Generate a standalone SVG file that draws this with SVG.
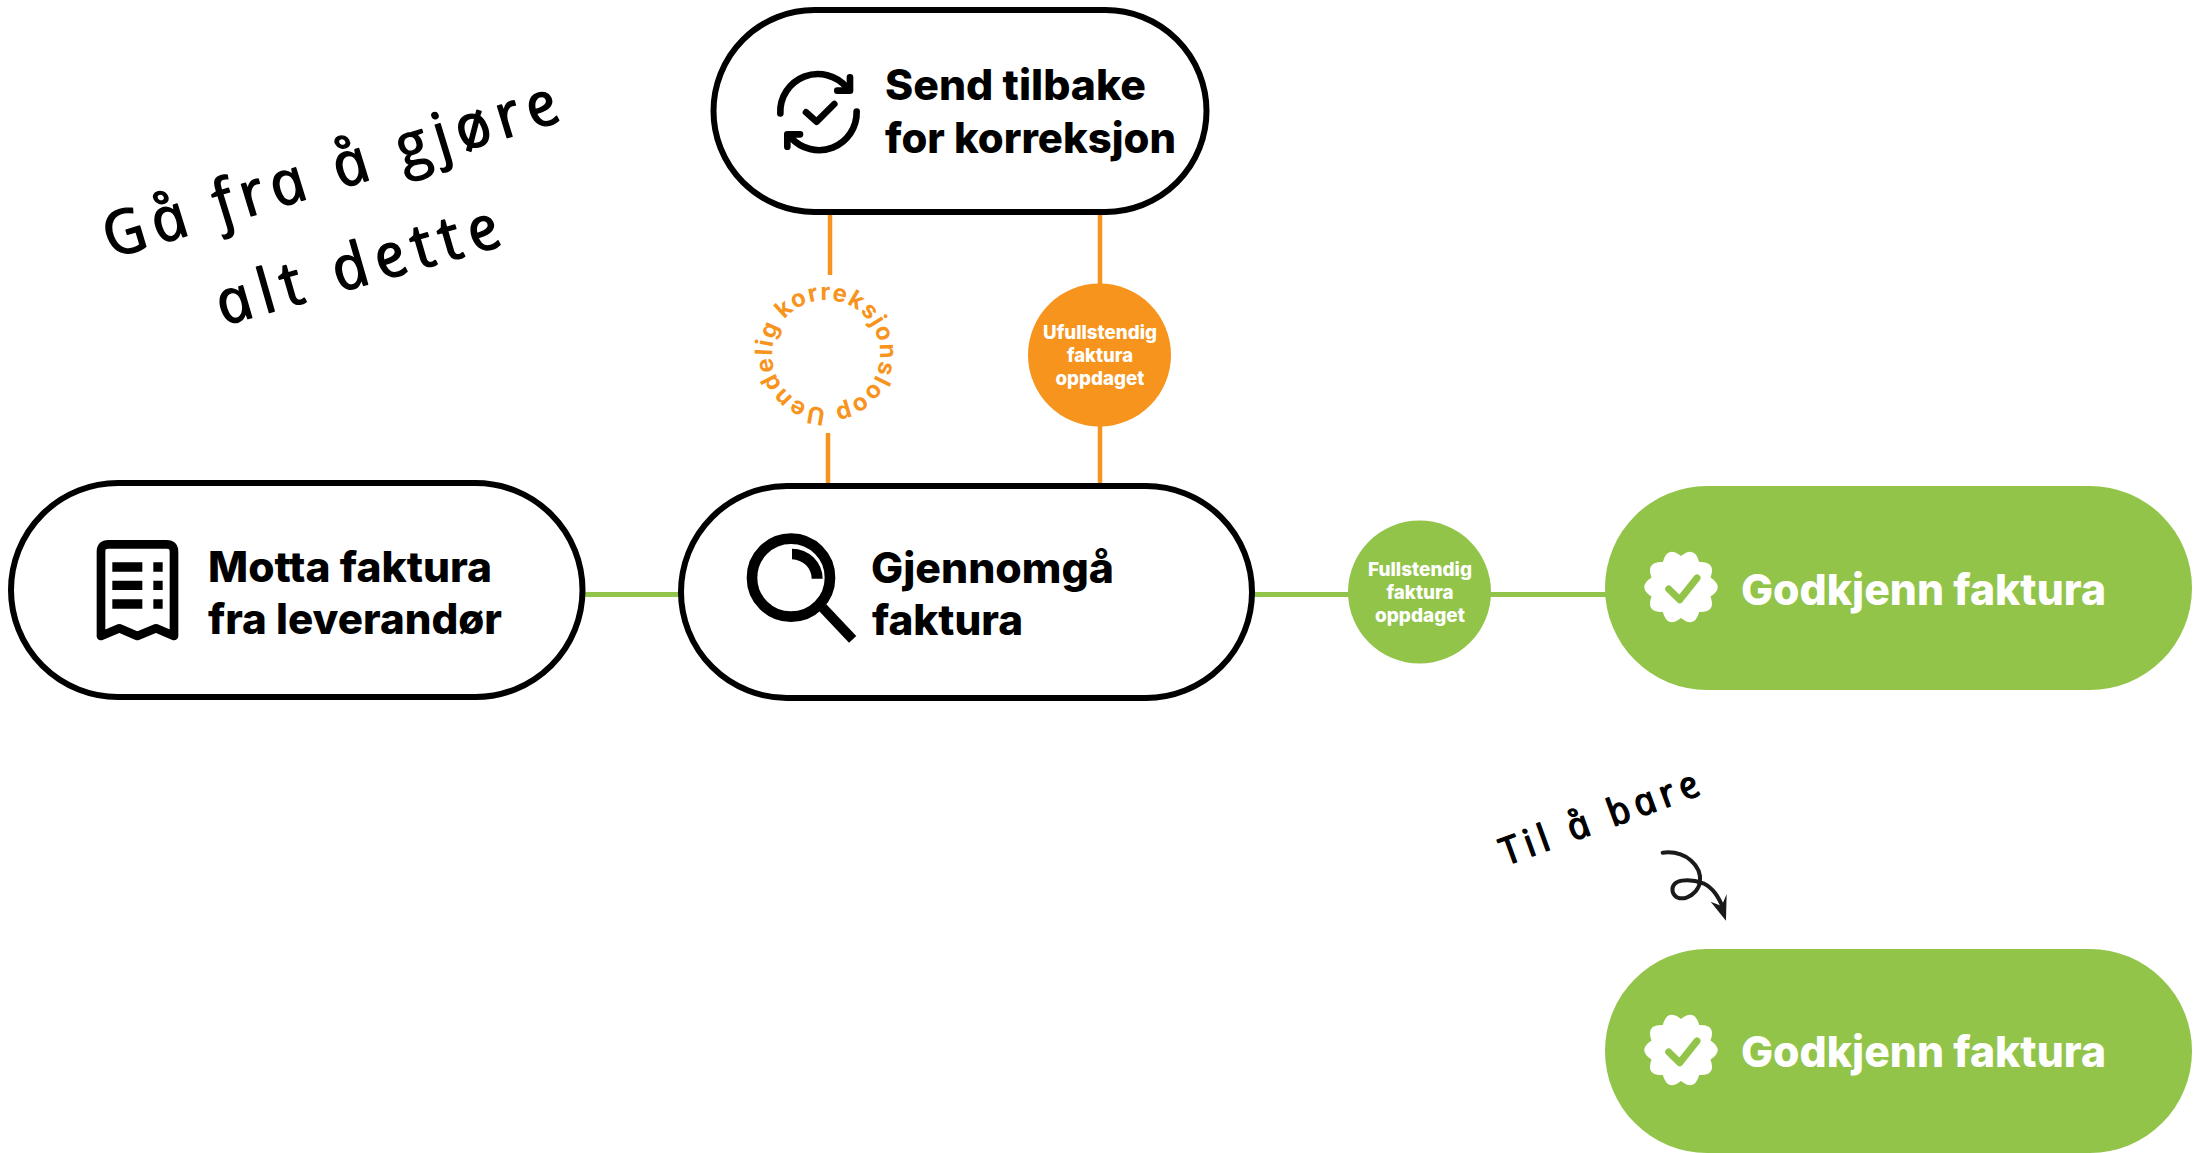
<svg xmlns="http://www.w3.org/2000/svg" width="2194" height="1153" viewBox="0 0 2194 1153">
<style>
.pill{fill:#fff;stroke:#000;stroke-width:6}
.gpill{fill:#92C44A}
.t{font-family:Inter,"Liberation Sans",sans-serif;font-weight:800;fill:#000;font-size:42px}
.g{font-size:43px;fill:#fff;font-family:Inter,"Liberation Sans",sans-serif;font-weight:800}
.s{font-family:Inter,"Liberation Sans",sans-serif;font-weight:800;font-size:19px;fill:#fff;text-anchor:middle}
.h{font-family:"Open Sans","DejaVu Sans",sans-serif;font-style:italic;font-weight:400;fill:#000;stroke:#000;stroke-width:1.4;stroke-linejoin:round}
.ol{stroke:#F7941D;stroke-width:4.5;fill:none}
.gl{stroke:#92C44A;stroke-width:5;fill:none}
</style>
<defs>
<g id="badge">
<path fill="#fff" d="M29.5,-9.6 Q44,0 29.5,9.6 Q35.5,25.7 18.2,25.1 Q13.6,41.8 0,31 Q-13.6,41.8 -18.2,25.1 Q-35.5,25.7 -29.5,9.6 Q-44,0 -29.5,-9.6 Q-35.5,-25.7 -18.2,-25.1 Q-13.6,-41.8 0,-31 Q13.6,-41.8 18.2,-25.1 Q35.5,-25.7 29.5,-9.6Z"/>
<path fill="none" stroke="#92C44A" stroke-width="7" stroke-linecap="round" stroke-linejoin="round" d="M-12.3,2 L-1.3,12.7 L16,-9"/>
</g>
</defs>
<g id="connectors">
<path class="gl" d="M585,594.5H682"/>
<path class="gl" d="M1252,594.5H1350"/>
<path class="gl" d="M1490,594.5H1606"/>
<path class="ol" d="M830,214V275"/>
<path class="ol" d="M828,433V484"/>
<path class="ol" d="M1100,214V285"/>
<path class="ol" d="M1100,425V484"/>
</g>
<g id="node-send">
<rect class="pill" x="713.5" y="10" width="493" height="202" rx="101"/>
<g transform="translate(700,0) scale(0.3333)" fill="none" stroke="#000" stroke-width="20" stroke-linecap="round" stroke-linejoin="round">
<path d="M241,340 A113,113 0 0 1 440,262"/>
<path d="M450,232 V272 H412"/>
<path d="M470,335 A113,113 0 0 1 272,412"/>
<path d="M262,440 V403 H300"/>
<path d="M318,337 L350,365 L403,312"/>
</g>
<text class="t" x="885" y="100" textLength="261" lengthAdjust="spacingAndGlyphs">Send tilbake</text>
<text class="t" x="885" y="153" textLength="291" lengthAdjust="spacingAndGlyphs">for korreksjon</text>
</g>
<g id="loop-label">
<path id="ringpath" fill="none" d="M826,408 A54,54 0 1 1 826.01,408"/>
<text font-family="Inter,'Liberation Sans',sans-serif" font-weight="700" font-size="24" fill="#F7941D" letter-spacing="1.3"><textPath href="#ringpath">Uendelig korreksjonsloop</textPath></text>
</g>
<g id="node-ufullstendig">
<circle cx="1099.5" cy="355" r="71.5" fill="#F7941D"/>
<text class="s" x="1100" y="339" textLength="114" lengthAdjust="spacingAndGlyphs">Ufullstendig</text>
<text class="s" x="1100" y="362" textLength="66" lengthAdjust="spacingAndGlyphs">faktura</text>
<text class="s" x="1100" y="385" textLength="89" lengthAdjust="spacingAndGlyphs">oppdaget</text>
</g>
<g id="node-motta">
<rect class="pill" x="11" y="483" width="571.5" height="214" rx="107"/>
<g transform="translate(80,530) scale(0.3333)">
<path fill="none" stroke="#000" stroke-width="26" stroke-linejoin="round" d="M63,318 V65 Q63,43 85,43 H260 Q282,43 282,65 V318 L228,295 L172,318 L118,295 Z"/>
<path d="M97,97h90v28h-90zM97,152h90v28h-90zM97,208h90v28h-90zM220,97h28v28h-28zM220,152h28v28h-28zM220,208h28v28h-28z"/>
</g>
<text class="t" x="208" y="582" textLength="284" lengthAdjust="spacingAndGlyphs">Motta faktura</text>
<text class="t" x="208" y="634" textLength="294" lengthAdjust="spacingAndGlyphs">fra leverandør</text>
</g>
<g id="node-gjennomga">
<rect class="pill" x="681" y="486" width="571" height="212" rx="106"/>
<g transform="translate(741,526) scale(0.3333)">
<circle cx="150" cy="155" r="117" fill="none" stroke="#000" stroke-width="32"/>
<path d="M153,68 A92,90 0 0 1 245,158 H212 A60,58 0 0 0 153,100Z"/>
<path d="M245,245 L335,340" stroke="#000" stroke-width="30" fill="none"/>
</g>
<text class="t" x="871" y="583" textLength="243" lengthAdjust="spacingAndGlyphs">Gjennomgå</text>
<text class="t" x="872" y="635" textLength="151" lengthAdjust="spacingAndGlyphs">faktura</text>
</g>
<g id="node-fullstendig">
<circle cx="1419.5" cy="592" r="71.5" fill="#92C44A"/>
<text class="s" x="1420" y="576" textLength="104" lengthAdjust="spacingAndGlyphs">Fullstendig</text>
<text class="s" x="1420" y="599" textLength="67" lengthAdjust="spacingAndGlyphs">faktura</text>
<text class="s" x="1420" y="622" textLength="90" lengthAdjust="spacingAndGlyphs">oppdaget</text>
</g>
<g id="node-godkjenn-1">
<rect class="gpill" x="1605" y="486" width="587" height="204" rx="102"/>
<use href="#badge" x="1681" y="587"/>
<text class="g" x="1741" y="605" textLength="365" lengthAdjust="spacingAndGlyphs">Godkjenn faktura</text>
</g>
<g id="node-godkjenn-2">
<rect class="gpill" x="1605" y="949" width="587" height="204" rx="102"/>
<use href="#badge" x="1681" y="1050"/>
<text class="g" x="1741" y="1067" textLength="365" lengthAdjust="spacingAndGlyphs">Godkjenn faktura</text>
</g>
<g id="note-top">
<text class="h" font-size="62" transform="translate(114,258) rotate(-17) skewX(12)" textLength="472" lengthAdjust="spacing">Gå fra å gjøre</text>
<text class="h" font-size="62" transform="translate(226,325) rotate(-16) skewX(12)" textLength="292" lengthAdjust="spacing">alt dette</text>
</g>
<g id="note-bottom">
<text class="h" font-size="38" stroke-width="0.9" transform="translate(1508,865) rotate(-20) skewX(12)" textLength="208" lengthAdjust="spacing">Til å bare</text>
<g transform="translate(1460,750) scale(0.3333)">
<path fill="none" stroke="#1a1a1a" stroke-width="12" stroke-linecap="round" d="M608,308 C680,300 725,350 720,395 C715,440 650,465 638,425 C630,385 690,385 730,400 C760,415 775,440 790,475"/>
<path fill="#1a1a1a" d="M798,512 L752,455 L785,468 L800,432 Z"/>
</g>
</g>
</svg>
